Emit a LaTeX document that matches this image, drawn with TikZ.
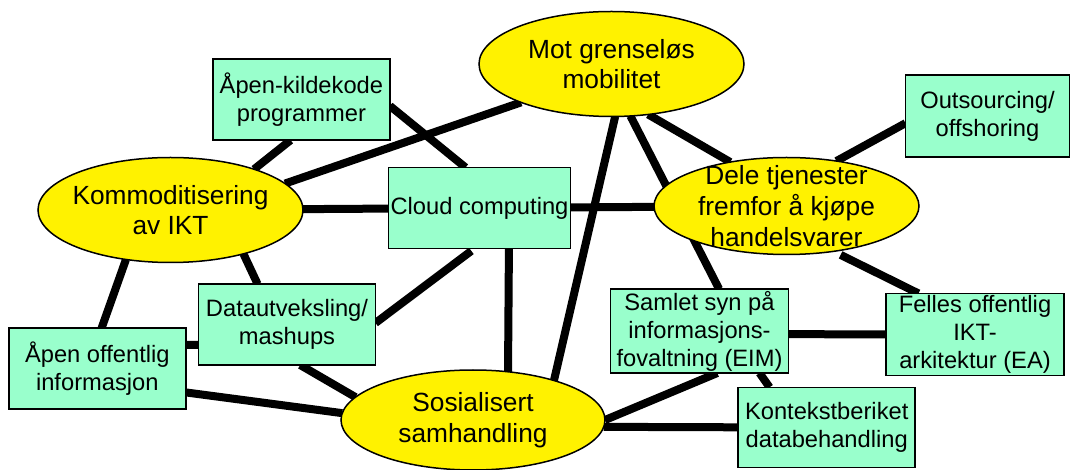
\documentclass[tikz,border=0pt]{standalone}
\usepackage{fontspec}
\setmainfont{Liberation Sans}
\usetikzlibrary{shapes.geometric}
\pgfdeclarelayer{bg}
\pgfsetlayers{bg,main}
\definecolor{mint}{RGB}{153,255,204}

\begin{document}
\begin{tikzpicture}[x=1pt,y=-1pt,
  goal/.style={ellipse, draw, fill=yellow, line width=1.5pt, inner sep=-30pt, outer sep=0pt,
    minimum width=265pt, minimum height=105pt, align=center, font=\fontsize{26.3}{30.7}\selectfont},
  item/.style={rectangle, draw, fill=mint, line width=1.5pt, inner sep=2pt, outer sep=0pt,
    minimum width=177pt, minimum height=81pt, align=center, font=\fontsize{23.7}{28}\selectfont},
  link/.style={line width=8pt}]
\useasboundingbox (0,0) rectangle (1072,470);
\node[goal] (mot) at (611.5,64) {Mot grenseløs\\mobilitet};
\node[goal] (komm) at (170.5,210) {Kommoditisering\\av IKT};
\node[goal, minimum height=97pt] (dele) at (786.5,206) {Dele tjenester\\fremfor å kjøpe\\handelsvarer};
\node[goal, minimum width=264pt, minimum height=100pt] (sosial) at (473,420) {Sosialisert\\samhandling};
\node[item] (apen) at (301.4,99.7) {Åpen-kildekode\\programmer};
\node[item] (cloud) at (479.5,208) {Cloud computing};
\node[item, minimum width=164pt, minimum height=82pt] (outs) at (987.5,116) {Outsourcing/\\offshoring};
\node[item] (data) at (287,324.5) {Datautveksling/\\mashups};
\node[item] (apenoff) at (97.3,368.7) {Åpen offentlig\\informasjon};
\node[item, minimum width=178pt, minimum height=82pt] (samlet) at (699.5,331) {Samlet syn på\\informasjons-\\fovaltning (EIM)};
\node[item, minimum width=178pt] (felles) at (975,334.5) {Felles offentlig\\IKT-\\arkitektur (EA)};
\node[item, minimum height=80pt] (kontekst) at (826.7,427.3) {Kontekstberiket\\databehandling};
\begin{pgfonlayer}{bg}
\draw[link] (komm.26.7) edge (apen.-105.9)
  (komm.13.6) edge (mot.-157.2)
  (apen.-4.1) edge (cloud.109.5)
  (komm) edge (dele)
  (mot.-54.3) edge (dele.142.3)
  (mot.-70.5) edge (samlet.65.3)
  (mot.-86.6) edge (sosial.26.7)
  (outs.185) edge (dele.42.1)
  (dele.-44.7) edge[shorten <=8pt] (felles.144.3)
  (samlet.-2) edge (felles.west)
  (samlet.-35.8) edge (kontekst.145.1)
  (samlet.-67.1) edge (sosial.east)
  (sosial.-3) edge (kontekst.west)
  (cloud.-54) edge (sosial.54)
  (komm.-132) edge (apenoff.84.4)
  (komm.-31.3) edge (data.126.5)
  (apenoff.15) edge (data.193)
  (cloud.-97.5) edge[shorten <=4pt] (data.1.7)
  (data.-72.7) edge (sosial.169.2)
  (apenoff.-15.2) edge (sosial.177.9);
\end{pgfonlayer}
\end{tikzpicture}
\end{document}
